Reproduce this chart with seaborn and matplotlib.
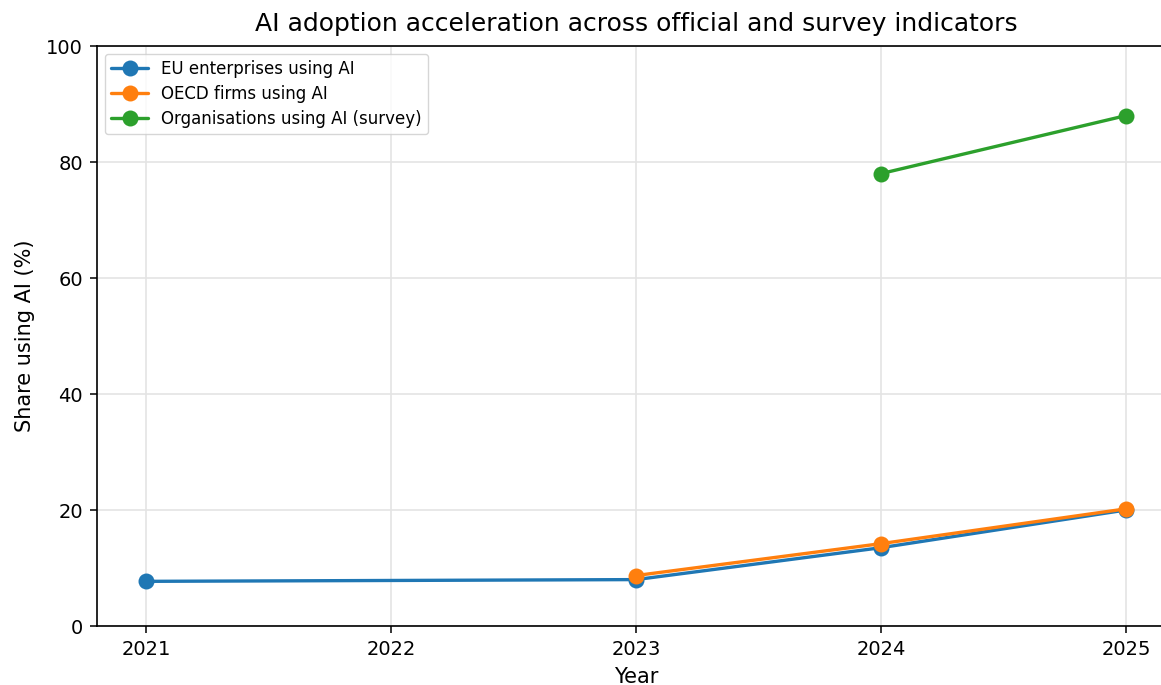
import pandas as pd
import matplotlib
matplotlib.use("Agg")
import matplotlib.pyplot as plt
import seaborn as sns

# DATA
years_eu = [2021, 2023, 2024, 2025]
eu_share = [7.7, 8.0, 13.5, 20.0]

years_oecd = [2023, 2024, 2025]
oecd_share = [8.7, 14.2, 20.2]

years_survey = [2024, 2025]
survey_share = [78.0, 88.0]

series_names = ["EU enterprises using AI", "OECD firms using AI", "Organisations using AI (survey)"]

df = pd.concat([
    pd.DataFrame({"Year": years_eu, "Share": eu_share, "Series": series_names[0]}),
    pd.DataFrame({"Year": years_oecd, "Share": oecd_share, "Series": series_names[1]}),
    pd.DataFrame({"Year": years_survey, "Share": survey_share, "Series": series_names[2]}),
], ignore_index=True)

sns.set_style("ticks", {"axes.edgecolor": "black", "text.color": "black",
                        "axes.labelcolor": "black", "xtick.color": "black",
                        "ytick.color": "black"})
plt.rcParams["font.family"] = ["DejaVu Sans"]

W, H = 1161, 685
fig = plt.figure(figsize=(W / 100, H / 100), dpi=100)
ax = fig.add_axes([97 / W, (H - 626) / H, 1078 / W, 580 / H])

palette = ["#1f77b4", "#ff7f0e", "#2ca02c"]
sns.lineplot(data=df, x="Year", y="Share", hue="Series", hue_order=series_names,
             palette=palette, marker="o", markersize=11.5, markeredgewidth=0,
             linewidth=2.4, ax=ax, zorder=3)

ax.set_xlim(2020.8, 2025.2)
ax.set_ylim(0, 100)
ax.set_xticks([2021, 2022, 2023, 2024, 2025])
ax.set_yticks([0, 20, 40, 60, 80, 100])
ax.tick_params(labelsize=14, length=5, width=1.1, pad=5)
ax.grid(True, color="#e4e4e4", linewidth=1.2)
ax.set_axisbelow(True)
for s in ax.spines.values():
    s.set_linewidth(1.2)
    s.set_visible(True)

ax.set_xlabel("Year", fontsize=15, labelpad=6)
ax.set_ylabel("Share using AI (%)", fontsize=15, labelpad=8)
ax.set_title("AI adoption acceleration across official and survey indicators",
             fontsize=18, pad=11)

leg = ax.legend(loc="upper left", fontsize=12, frameon=True, title=None,
                borderaxespad=0.45, handlelength=2.2, labelspacing=0.4)
leg.get_frame().set_edgecolor("#cccccc")

fig.savefig("out.png", dpi=100)
